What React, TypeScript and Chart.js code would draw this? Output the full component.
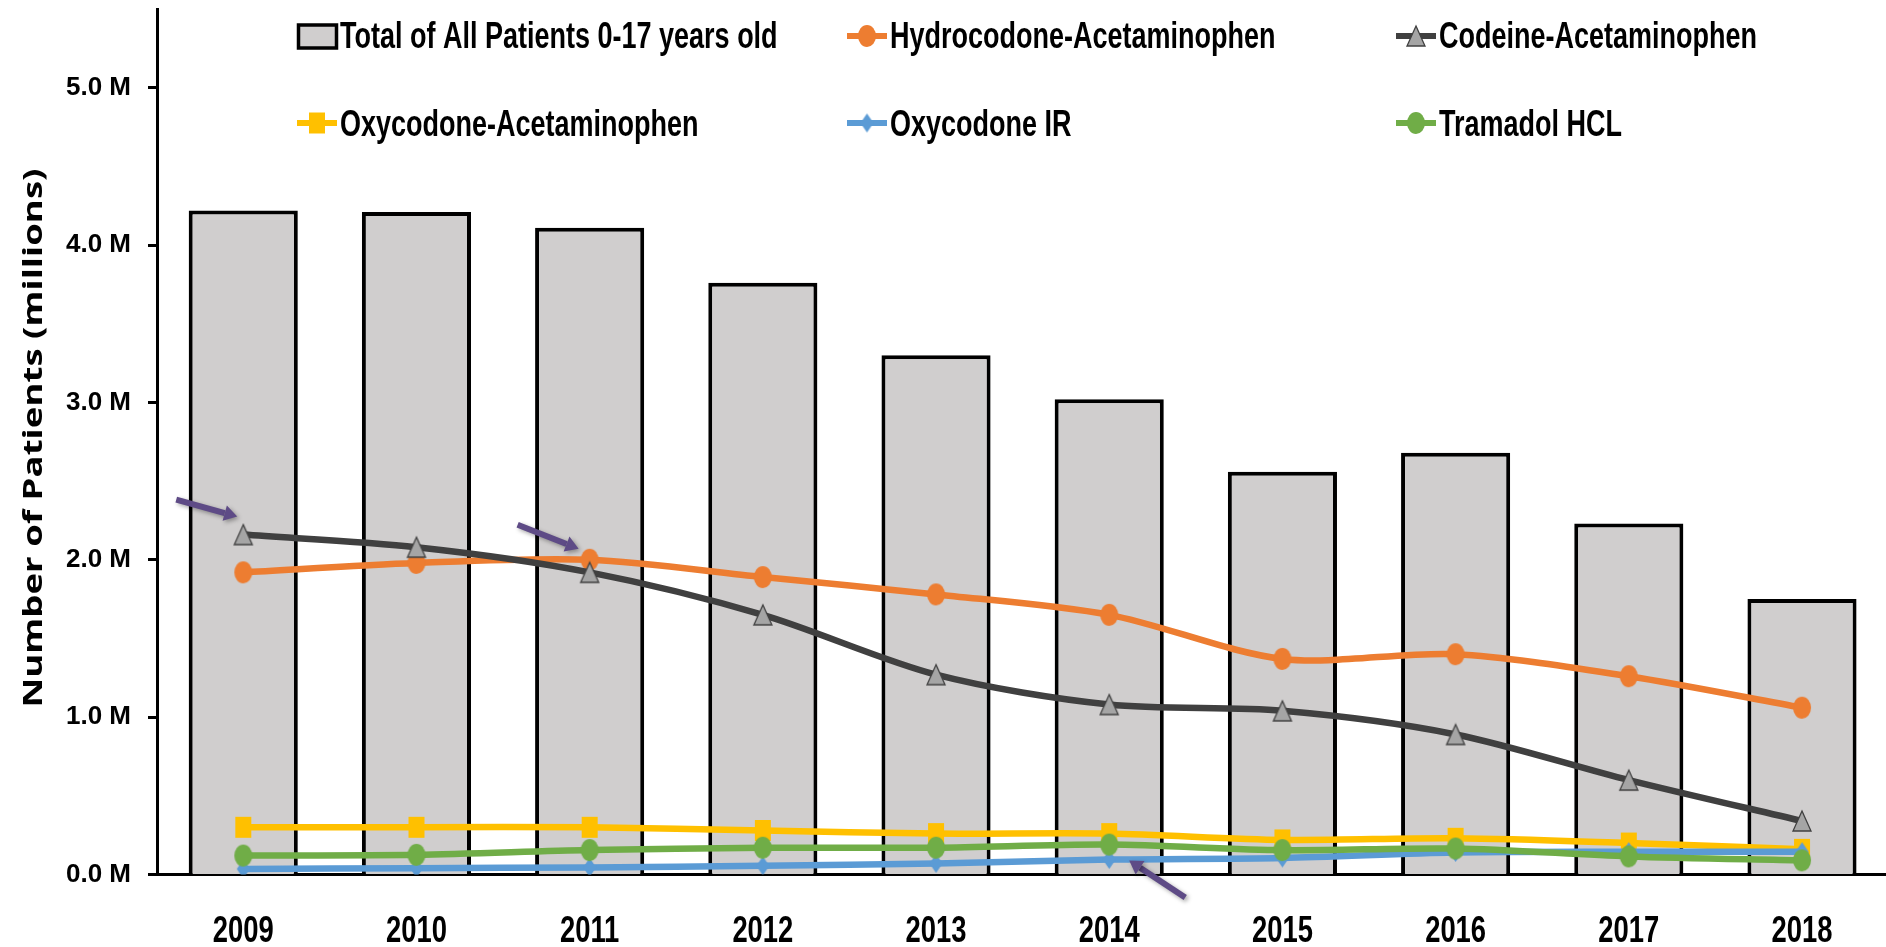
import React, { useEffect, useRef } from 'react';
import { Chart, registerables } from 'chart.js';

Chart.register(...registerables);

// ---- Data (millions of patients) ----
const years = [2009, 2010, 2011, 2012, 2013, 2014, 2015, 2016, 2017, 2018];
const totalPatients = [4.22, 4.21, 4.11, 3.76, 3.30, 3.02, 2.56, 2.68, 2.23, 1.75];
const hydrocodoneApap = [1.92, 1.98, 2.00, 1.89, 1.78, 1.65, 1.37, 1.40, 1.26, 1.06];
const codeineApap = [2.16, 2.08, 1.92, 1.65, 1.27, 1.08, 1.04, 0.89, 0.60, 0.34];
const oxycodoneApap = [0.30, 0.30, 0.30, 0.28, 0.26, 0.26, 0.22, 0.23, 0.20, 0.16];
const oxycodoneIR = [0.035, 0.04, 0.045, 0.055, 0.07, 0.095, 0.105, 0.14, 0.145, 0.145];
const tramadolHCL = [0.12, 0.125, 0.155, 0.17, 0.17, 0.19, 0.155, 0.165, 0.115, 0.09];
const yTickValues = [0, 1, 2, 3, 4, 5];
const seriesLabels = [
  'Total of All Patients 0-17 years old',
  'Hydrocodone-Acetaminophen',
  'Codeine-Acetaminophen',
  'Oxycodone-Acetaminophen',
  'Oxycodone IR',
  'Tramadol HCL',
];
const yTitle = 'Number of Patients (millions)';

const SANS = '"Liberation Sans", Arial, sans-serif';
const WIDE = '"Open Sans", "Noto Sans", sans-serif';
const X_MIN = 2008.502;
const X_MAX = 2018.485;
const Y_MAX = 5.5;

function makeMarker(shape: string, w: number, h: number, fill: string, stroke?: string, lw = 1) {
  const pad = 2;
  const c = document.createElement('canvas');
  c.width = w + pad * 2;
  c.height = h + pad * 2;
  const ctx = c.getContext('2d')!;
  ctx.translate(pad, pad);
  ctx.beginPath();
  if (shape === 'ellipse') ctx.ellipse(w / 2, h / 2, w / 2, h / 2, 0, 0, Math.PI * 2);
  else if (shape === 'rect') ctx.rect(0, 0, w, h);
  else if (shape === 'triangle') {
    ctx.moveTo(w / 2, 0);
    ctx.lineTo(w, h);
    ctx.lineTo(0, h);
    ctx.closePath();
  } else if (shape === 'diamond') {
    ctx.moveTo(w / 2, 0);
    ctx.lineTo(w, h / 2);
    ctx.lineTo(w / 2, h);
    ctx.lineTo(0, h / 2);
    ctx.closePath();
  }
  ctx.fillStyle = fill;
  ctx.fill();
  if (stroke) {
    ctx.lineWidth = lw;
    ctx.strokeStyle = stroke;
    ctx.stroke();
  }
  return c;
}

function drawArrow(ctx: CanvasRenderingContext2D, x1: number, y1: number, x2: number, y2: number) {
  const ang = Math.atan2(y2 - y1, x2 - x1);
  const headLen = 13;
  const headW = 8;
  const bx = x2 - headLen * Math.cos(ang);
  const by = y2 - headLen * Math.sin(ang);
  ctx.save();
  ctx.shadowColor = 'rgba(0,0,0,0.35)';
  ctx.shadowBlur = 4;
  ctx.shadowOffsetX = 2;
  ctx.shadowOffsetY = 2;
  ctx.strokeStyle = '#5E4B86';
  ctx.fillStyle = '#5E4B86';
  ctx.lineWidth = 6;
  ctx.beginPath();
  ctx.moveTo(x1, y1);
  ctx.lineTo(bx, by);
  ctx.stroke();
  ctx.beginPath();
  ctx.moveTo(x2, y2);
  ctx.lineTo(bx + headW * Math.sin(ang), by - headW * Math.cos(ang));
  ctx.lineTo(bx - headW * Math.sin(ang), by + headW * Math.cos(ang));
  ctx.closePath();
  ctx.fill();
  ctx.restore();
}

// condensed bold text (horizontal compression of the installed sans)
function condensedText(ctx: CanvasRenderingContext2D, text: string, x: number, y: number, align: 'left' | 'center', size: number, sx: number) {
  ctx.save();
  ctx.font = `bold ${size}px ${SANS}`;
  ctx.fillStyle = '#000';
  ctx.textBaseline = 'alphabetic';
  ctx.textAlign = align;
  ctx.translate(x, y);
  ctx.scale(sx, 1);
  ctx.fillText(text, 0, 0);
  ctx.restore();
}

export default function App() {
  const ref = useRef<HTMLCanvasElement>(null);

  useEffect(() => {
    if (!ref.current) return;
    const orange = '#ED7D31';
    const dark = '#404040';
    const yellow = '#FFC000';
    const blue = '#5B9BD5';
    const green = '#70AD47';
    const barFill = '#D0CECE';

    const mHydro = makeMarker('ellipse', 18, 22, orange);
    const mCodeine = makeMarker('triangle', 18, 20, '#A5A5A5', dark, 1.3);
    const mOxyApap = makeMarker('rect', 16, 21, yellow);
    const mOxyIR = makeMarker('diamond', 13, 19, blue);
    const mTramadol = makeMarker('ellipse', 18, 22, green);

    const toXY = (arr: number[]) => arr.map((v, i) => ({ x: years[i], y: v }));

    const lineDs = (label: string, data: number[], color: string, marker: HTMLCanvasElement, order: number) => ({
      type: 'line' as const,
      label,
      data: toXY(data),
      borderColor: color,
      backgroundColor: color,
      borderWidth: 6.5,
      tension: 0.3,
      pointStyle: marker,
      pointRadius: 9,
      order,
    });

    const legendPlugin = {
      id: 'customLegendAndNotes',
      afterDraw(chart: any) {
        const ctx: CanvasRenderingContext2D = chart.ctx;
        const xs = chart.scales.x;
        const ys = chart.scales.y;

        // x-axis category labels
        years.forEach((yr) => {
          condensedText(ctx, String(yr), xs.getPixelForValue(yr), 942, 'center', 37, 0.74);
        });

        // arrows pointing at data points
        const notes = [
          { series: codeineApap, i: 0, tip: [-6, -18], tail: [-67, -35] },
          { series: hydrocodoneApap, i: 2, tip: [-11, -11], tail: [-72, -35] },
          { series: oxycodoneIR, i: 5, tip: [20, 1], tail: [76, 38] },
        ];
        notes.forEach((n) => {
          const px = xs.getPixelForValue(years[n.i]);
          const py = ys.getPixelForValue(n.series[n.i]);
          drawArrow(ctx, px + n.tail[0], py + n.tail[1], px + n.tip[0], py + n.tip[1]);
        });

        // legend
        const colX = [297, 847, 1396];
        const rowMarkY = [36, 123];
        const rowBase = [47.5, 135.5];
        const items = [
          { kind: 'bar' },
          { kind: 'line', color: orange, marker: mHydro },
          { kind: 'line', color: dark, marker: mCodeine },
          { kind: 'line', color: yellow, marker: mOxyApap },
          { kind: 'line', color: blue, marker: mOxyIR },
          { kind: 'line', color: green, marker: mTramadol },
        ];
        ctx.save();
        items.forEach((it: any, k) => {
          const r = Math.floor(k / 3);
          const c = k % 3;
          const x0 = colX[c];
          const my = rowMarkY[r];
          if (it.kind === 'bar') {
            ctx.fillStyle = barFill;
            ctx.strokeStyle = '#000';
            ctx.lineWidth = 3.5;
            ctx.fillRect(x0 + 1.5, my - 11, 38, 23);
            ctx.strokeRect(x0 + 1.5, my - 11, 38, 23);
          } else {
            ctx.strokeStyle = it.color;
            ctx.lineWidth = 6;
            ctx.beginPath();
            ctx.moveTo(x0, my);
            ctx.lineTo(x0 + 40, my);
            ctx.stroke();
            const m = it.marker as HTMLCanvasElement;
            ctx.drawImage(m, x0 + 20 - m.width / 2, my - m.height / 2);
          }
          condensedText(ctx, seriesLabels[k], x0 + 43, rowBase[r], 'left', 36, 0.75);
        });
        ctx.restore();

        // y-axis title (stretched along its length)
        ctx.save();
        ctx.fillStyle = '#000';
        ctx.font = `bold 27px ${WIDE}`;
        const w = ctx.measureText(yTitle).width;
        const stretch = 539 / w;
        ctx.translate(34, 438);
        ctx.rotate(-Math.PI / 2);
        ctx.scale(stretch, 1);
        ctx.textAlign = 'center';
        ctx.textBaseline = 'middle';
        ctx.fillText(yTitle, 0, 0);
        ctx.restore();
      },
    };

    const chart = new Chart(ref.current, {
      data: {
        datasets: [
          {
            type: 'bar' as const,
            label: seriesLabels[0],
            data: toXY(totalPatients),
            backgroundColor: barFill,
            borderColor: '#000',
            borderWidth: 4,
            categoryPercentage: 1,
            barPercentage: 0.63,
            order: 10,
          } as any,
          lineDs(seriesLabels[1], hydrocodoneApap, orange, mHydro, 5),
          lineDs(seriesLabels[2], codeineApap, dark, mCodeine, 4),
          lineDs(seriesLabels[3], oxycodoneApap, yellow, mOxyApap, 3),
          lineDs(seriesLabels[4], oxycodoneIR, blue, mOxyIR, 2),
          lineDs(seriesLabels[5], tramadolHCL, green, mTramadol, 1),
        ],
      },
      options: {
        responsive: false,
        animation: false,
        devicePixelRatio: 1,
        layout: { autoPadding: false, padding: { top: 9, left: 0, right: 0, bottom: 0 } },
        plugins: {
          legend: { display: false },
          tooltip: { enabled: false },
          title: { display: false },
        },
        scales: {
          x: {
            type: 'linear',
            min: X_MIN,
            max: X_MAX,
            offset: false,
            bounds: 'data',
            afterBuildTicks: (s: any) => {
              s.ticks = years.map((v) => ({ value: v }));
              s.min = X_MIN;
              s.max = X_MAX;
            },
            afterFit: (s: any) => {
              s.height = 72.5;
              s.paddingLeft = 0;
              s.paddingRight = 0;
            },
            ticks: { display: false },
            grid: { display: false, drawTicks: false, offset: false },
            border: { display: true, color: '#000', width: 3 },
          },
          y: {
            type: 'linear',
            min: 0,
            max: Y_MAX,
            bounds: 'data',
            afterBuildTicks: (s: any) => {
              s.ticks = yTickValues.map((v) => ({ value: v }));
              s.min = 0;
              s.max = Y_MAX;
            },
            afterFit: (s: any) => {
              s.width = 157;
              s.paddingTop = 0;
              s.paddingBottom = 0;
            },
            ticks: {
              callback: (v: any) => Number(v).toFixed(1) + ' M',
              font: { family: SANS, weight: 'bold', size: 26 },
              color: '#000',
              padding: 17,
            },
            grid: {
              drawOnChartArea: false,
              drawTicks: true,
              tickLength: 9,
              tickWidth: 3,
              tickColor: '#000',
            },
            border: { display: true, color: '#000', width: 3 },
          },
        },
      } as any,
      plugins: [legendPlugin],
    });

    return () => chart.destroy();
  }, []);

  return (
    <div style={{ position: 'absolute', left: 0, top: 0, width: 1886, height: 947, background: '#fff' }}>
      <canvas ref={ref} width={1886} height={947} style={{ display: 'block' }} />
    </div>
  );
}
